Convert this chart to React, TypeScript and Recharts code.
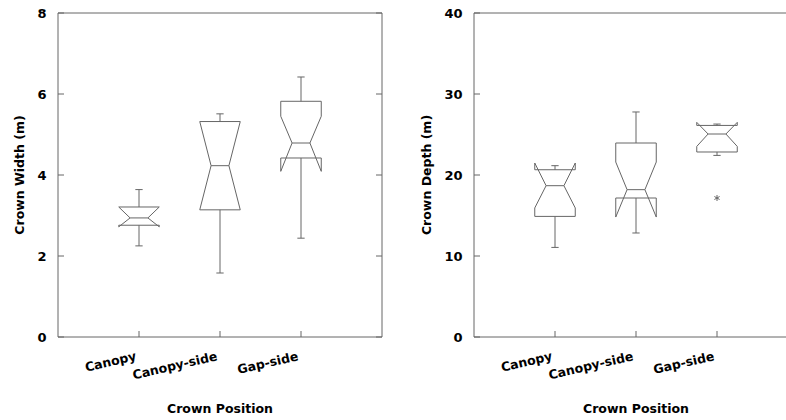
import { ComposedChart, Line, Scatter, XAxis, YAxis, Label } from "recharts";

// --- data ---
const categories = ["Canopy", "Canopy-side", "Gap-side"];
const categoryPositions = [1, 2, 3];

// Crown width (m)
const widthWhiskerLow = [2.25, 1.58, 2.44];
const widthQ1 = [2.76, 3.14, 4.42];
const widthNotchLow = [2.72, 3.14, 4.09];
const widthMedian = [2.94, 4.23, 4.79];
const widthNotchHigh = [3.21, 5.32, 5.45];
const widthQ3 = [3.21, 5.32, 5.82];
const widthWhiskerHigh = [3.64, 5.51, 6.42];
const widthOutliers: { x: number; y: number }[] = [];
const widthTicks = [0, 2, 4, 6, 8];

// Crown depth (m)
const depthWhiskerLow = [11.06, 12.84, 22.42];
const depthQ1 = [14.89, 17.16, 22.84];
const depthNotchLow = [15.93, 14.81, 23.53];
const depthMedian = [18.68, 18.19, 25.06];
const depthNotchHigh = [21.48, 21.6, 26.5];
const depthQ3 = [20.65, 23.95, 26.12];
const depthWhiskerHigh = [21.15, 27.78, 26.29];
const depthOutliers = [{ x: 3, y: 17.16 }];
const depthTicks = [0, 10, 20, 30, 40];

const FONT = '"DejaVu Sans", "Liberation Sans", sans-serif';
const INK = "#666";
const BOX_HALF = 0.25; // half box width, in category units
const NOTCH_HALF = 0.11; // half width at the median
const CAP_HALF = 0.045; // whisker cap half width

interface Stats {
  lo: number[];
  q1: number[];
  nLo: number[];
  med: number[];
  nHi: number[];
  q3: number[];
  hi: number[];
}

type Pt = { x: number; y: number | null };

// outline + median + whiskers of one box, broken with nulls
function boxPath(s: Stats, i: number): Pt[] {
  const c = categoryPositions[i];
  const L = c - BOX_HALF;
  const R = c + BOX_HALF;
  const brk = (x: number): Pt => ({ x, y: null });
  return [
    { x: L, y: s.q3[i] },
    { x: L, y: s.nHi[i] },
    { x: c - NOTCH_HALF, y: s.med[i] },
    { x: L, y: s.nLo[i] },
    { x: L, y: s.q1[i] },
    { x: R, y: s.q1[i] },
    { x: R, y: s.nLo[i] },
    { x: c + NOTCH_HALF, y: s.med[i] },
    { x: R, y: s.nHi[i] },
    { x: R, y: s.q3[i] },
    { x: L, y: s.q3[i] },
    brk(c),
    { x: c - NOTCH_HALF, y: s.med[i] },
    { x: c + NOTCH_HALF, y: s.med[i] },
    brk(c),
    { x: c, y: s.q3[i] },
    { x: c, y: s.hi[i] },
    brk(c),
    { x: c - CAP_HALF, y: s.hi[i] },
    { x: c + CAP_HALF, y: s.hi[i] },
    brk(c),
    { x: c, y: s.q1[i] },
    { x: c, y: s.lo[i] },
    brk(c),
    { x: c - CAP_HALF, y: s.lo[i] },
    { x: c + CAP_HALF, y: s.lo[i] },
  ];
}

const Asterisk = (props: any) => {
  const { cx, cy } = props;
  const r = 3;
  return (
    <g stroke={INK} strokeWidth={1}>
      <line x1={cx} y1={cy - r} x2={cx} y2={cy + r} />
      <line x1={cx - r * 0.87} y1={cy - r * 0.5} x2={cx + r * 0.87} y2={cy + r * 0.5} />
      <line x1={cx - r * 0.87} y1={cy + r * 0.5} x2={cx + r * 0.87} y2={cy - r * 0.5} />
    </g>
  );
};

// frame axes (top / right) only show their inward tick marks
const NoLabel = () => <g />;

const CategoryTick = (props: any) => {
  const { x, y, payload } = props;
  const text = categories[categoryPositions.indexOf(payload.value)];
  const tx = x - 2;
  return (
    <text
      x={tx}
      y={y}
      transform={`rotate(-13, ${tx}, ${y})`}
      textAnchor="end"
      fontFamily={FONT}
      fontWeight="bold"
      fontSize={12.5}
      fill="#000"
    >
      {text}
    </text>
  );
};

interface PanelProps {
  stats: Stats;
  outliers: { x: number; y: number }[];
  ticks: number[];
  yTitle: string;
  axisWidth: number;
  titleX: number;
  left: number;
  width: number;
  right: number;
}

function Panel({ stats, outliers, ticks, yTitle, axisWidth, titleX, left, width, right }: PanelProps) {
  const yMax = ticks[ticks.length - 1];
  return (
    <div style={{ position: "absolute", left, top: 0 }}>
      <ComposedChart width={width} height={420} margin={{ top: 12, right, bottom: 0, left: 0 }}>
        <XAxis
          dataKey="x"
          type="number"
          domain={[0, 4]}
          ticks={categoryPositions}
          allowDataOverflow
          height={83}
          tickSize={-6}
          tickMargin={29}
          stroke={INK}
          tick={<CategoryTick />}
        >
          <Label
            content={(p: any) => {
              const vb = p.viewBox;
              return (
                <text
                  x={vb.x + vb.width / 2}
                  y={413}
                  textAnchor="middle"
                  fontFamily={FONT}
                  fontWeight="bold"
                  fontSize={12.5}
                  fill="#000"
                >
                  Crown Position
                </text>
              );
            }}
          />
        </XAxis>
        <XAxis
          xAxisId="top"
          orientation="top"
          type="number"
          domain={[0, 4]}
          ticks={categoryPositions}
          allowDataOverflow
          height={1}
          tickSize={-6}
          tick={<NoLabel />}
          stroke={INK}
        />
        <YAxis
          dataKey="y"
          type="number"
          domain={[0, yMax]}
          ticks={ticks}
          allowDataOverflow
          width={axisWidth}
          tickSize={-6}
          tickMargin={17.5}
          stroke={INK}
          tick={{ fill: "#000", fontFamily: FONT, fontWeight: "bold", fontSize: 13 }}
        >
          <Label
            content={(p: any) => {
              const vb = p.viewBox;
              const cy = vb.y + vb.height / 2;
              return (
                <text
                  x={titleX}
                  y={cy}
                  transform={`rotate(-90, ${titleX}, ${cy})`}
                  textAnchor="middle"
                  fontFamily={FONT}
                  fontWeight="bold"
                  fontSize={12.5}
                  fill="#000"
                >
                  {yTitle}
                </text>
              );
            }}
          />
        </YAxis>
        <YAxis
          yAxisId="right"
          orientation="right"
          type="number"
          domain={[0, yMax]}
          ticks={ticks}
          allowDataOverflow
          width={1}
          tickSize={-6}
          tick={<NoLabel />}
          stroke={INK}
        />
        {categoryPositions.map((_, i) => (
          <Line
            key={i}
            data={boxPath(stats, i)}
            dataKey="y"
            stroke={INK}
            strokeWidth={1}
            dot={false}
            activeDot={false}
            connectNulls={false}
            isAnimationActive={false}
          />
        ))}
        {outliers.length > 0 && (
          <Scatter data={outliers} dataKey="y" shape={<Asterisk />} isAnimationActive={false} />
        )}
      </ComposedChart>
    </div>
  );
}

export default function App() {
  const widthStats: Stats = {
    lo: widthWhiskerLow,
    q1: widthQ1,
    nLo: widthNotchLow,
    med: widthMedian,
    nHi: widthNotchHigh,
    q3: widthQ3,
    hi: widthWhiskerHigh,
  };
  const depthStats: Stats = {
    lo: depthWhiskerLow,
    q1: depthQ1,
    nLo: depthNotchLow,
    med: depthMedian,
    nHi: depthNotchHigh,
    q3: depthQ3,
    hi: depthWhiskerHigh,
  };
  return (
    <div
      style={{
        position: "absolute",
        left: 0,
        top: 0,
        width: 786,
        height: 420,
        overflow: "hidden",
        background: "#fff",
      }}
    >
      <Panel
        stats={widthStats}
        outliers={widthOutliers}
        ticks={widthTicks}
        yTitle="Crown Width (m)"
        axisWidth={58}
        titleX={24}
        left={0}
        width={393}
        right={10}
      />
      <Panel
        stats={depthStats}
        outliers={depthOutliers}
        ticks={depthTicks}
        yTitle="Crown Depth (m)"
        axisWidth={81}
        titleX={38}
        left={393}
        width={406}
        right={0}
      />
    </div>
  );
}
